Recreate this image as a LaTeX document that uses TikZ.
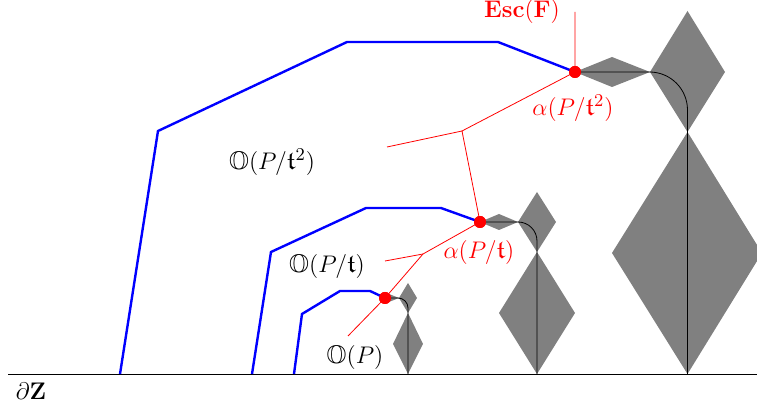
\documentclass[tikz,border=0pt]{standalone}
\usepackage{amsmath}
\usepackage{amssymb}
\usepackage{tikz}
\usetikzlibrary{positioning,calc}

\begin{document}
\begin{tikzpicture}[x=0.5pt,y=-0.5pt,every node/.style={font=\fontsize{12.8}{15}\selectfont}]
  \tikzstyle{outline}=[draw=blue,line width=1.2pt]
  \tikzstyle{tile}=[fill=gray,draw=none]
  \tikzstyle{reddot}=[circle,fill=red,inner sep=0pt,minimum size=6pt]
  \tikzstyle{tree}=[draw=red,line width=0.4pt]
  \useasboundingbox (0,0) rectangle (757,411);
  \clip (0,0) rectangle (757,411);
  % tiles
  \fill[tile] (575,72) -- (612,57) -- (650,72) -- (612,87) -- cycle;
  \fill[tile] (687.5,11) -- (725,72) -- (687.5,132) -- (650,72) -- cycle;
  \fill[tile] (687.5,132) -- (762,253) -- (687.5,374) -- (612,253) -- cycle;
  \fill[tile] (480,222) -- (499,214) -- (518,222) -- (499,230) -- cycle;
  \fill[tile] (537,192) -- (556,222) -- (537,252) -- (518,222) -- cycle;
  \fill[tile] (537,252) -- (575,313) -- (537,374) -- (499,313) -- cycle;
  \fill[tile] (380,298) -- (389,294) -- (399,298) -- (389,302) -- cycle;
  \fill[tile] (408,283) -- (417,298) -- (408,313) -- (399,298) -- cycle;
  \fill[tile] (408,313) -- (423,344) -- (408,374) -- (393,344) -- cycle;
  % boundary
  \draw (8,374) -- (757,374);
  \node (bdry) at (31,391) {$\partial\mathbf{Z}$};
  % escaping points
  \node[reddot] (big) at (575,72) {};
  \node[reddot] (mid) at (480,222) {};
  \node[reddot] (small) at (385,298) {};
  \draw[rounded corners=19pt] (big.center) -- (687.5,72) -- (687.5,374);
  \draw[rounded corners=9.5pt] (mid.center) -- (537,222) -- (537,374);
  \draw[rounded corners=5pt] (small.center) -- (408,298) -- (408,374);
  \draw[outline] (120,374) -- (158,131) -- (347,42) -- (498,42) -- (big.center);
  \draw[outline] (252,374) -- (271,252) -- (366,208) -- (441,208) -- (mid.center);
  \draw[outline] (294,374) -- (302,314) -- (340,291) -- (370,291) -- (small.center);
  % red tree
  \coordinate (esctop) at (575,12);
  \coordinate (b1) at (462,131);
  \coordinate (e1) at (387,147);
  \coordinate (b2) at (423,254);
  \coordinate (e2) at (385,261);
  \coordinate (e3) at (348,336);
  \draw[tree] (esctop) -- (big.center) -- (b1) -- (mid.center) -- (b2) -- (small.center) -- (e3);
  \draw[tree] (b1) -- (e1);
  \draw[tree] (b2) -- (e2);
  \node[reddot] at (big.center) {};
  \node[reddot] at (mid.center) {};
  \node[reddot] at (small.center) {};
  % labels
  \node[text=red] (esc) at (522,12) {$\mathbf{Esc}(\mathbf{F})$};
  \node[text=red] (a2) at (573,108) {$\alpha(P/\mathfrak{t}^2)$};
  \node[text=red] (a1) at (479,253) {$\alpha(P/\mathfrak{t})$};
  \node (o2) at (272,162) {$\mathbb{O}(P/\mathfrak{t}^2)$};
  \node (o1) at (327,267) {$\mathbb{O}(P/\mathfrak{t})$};
  \node (o0) at (355,358) {$\mathbb{O}(P)$};
\end{tikzpicture}
\end{document}
